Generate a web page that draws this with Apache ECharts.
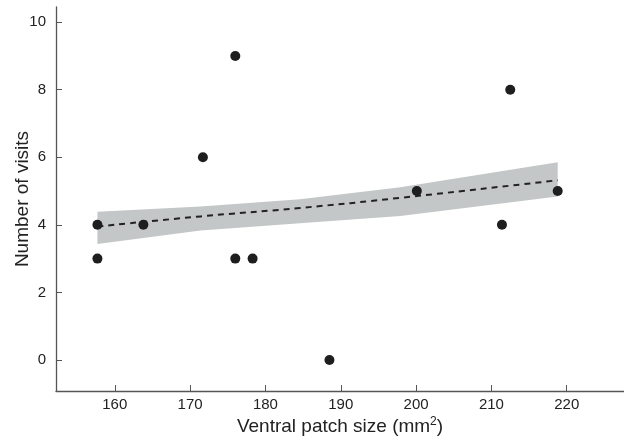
<!DOCTYPE html>
<html>
<head>
    <meta charset="UTF-8"/>
    <script type="text/javascript" src="https://cdn.jsdelivr.net/npm/echarts@6/dist/echarts.min.js"></script>
    <title>Number of visits</title>
    <style>
        html, body { margin: 0; padding: 0; background: #fff; }
        #main { width: 624px; height: 440px; }
    </style>
</head>
<body>
<div id="main"></div>

<script type="application/javascript">
    // observed points
    var patchSize = [157.7, 157.7, 163.8, 171.7, 176.0, 176.0, 178.3, 188.5, 200.1, 211.4, 212.5, 218.8];
    var visits = [4, 3, 4, 6, 9, 3, 3, 0, 5, 4, 8, 5];

    // fitted line and confidence band
    var fitX = [157.7, 171.4, 184.6, 197.9, 218.8];
    var fitY = [3.95, 4.25, 4.50, 4.80, 5.32];
    var bandLower = [3.43, 3.83, 4.05, 4.26, 4.84];
    var bandUpper = [4.39, 4.54, 4.76, 5.11, 5.85];

    var xTicks = [160, 170, 180, 190, 200, 210, 220];
    var yTicks = [0, 2, 4, 6, 8, 10];

    function pairs(xs, ys) {
        var out = [];
        for (var i = 0; i < xs.length; i++) {
            out.push([xs[i], ys[i]]);
        }
        return out;
    }

    // band polygon: upper edge left to right, then lower edge back
    function renderBand(params, api) {
        var pts = [];
        for (var i = 0; i < fitX.length; i++) {
            pts.push(api.coord([fitX[i], bandUpper[i]]));
        }
        for (var j = fitX.length - 1; j >= 0; j--) {
            pts.push(api.coord([fitX[j], bandLower[j]]));
        }
        return {
            type: 'polygon',
            shape: { points: pts },
            style: { fill: '#c4c7c7' }
        };
    }

    var myChart = echarts.init(document.getElementById('main'));
    var option = {
        animation: false,
        grid: { left: 56, right: 0, top: 7, bottom: 49, outerBoundsMode: 'none' },
        xAxis: {
            type: 'value',
            min: 152.2,
            max: 227.6,
            name: '{a|Ventral patch size (mm}{s|2}{a|)}',
            nameLocation: 'middle',
            nameGap: 25,
            nameMoveOverlap: false,
            nameTextStyle: {
                rich: {
                    a: { fontFamily: 'Liberation Sans', fontSize: 19, color: '#222' },
                    s: { fontFamily: 'Liberation Sans', fontSize: 12, color: '#222', padding: [0, 0, 10, 0] }
                }
            },
            splitLine: { show: false },
            axisLine: { onZero: false, lineStyle: { color: '#555', width: 1.3 } },
            axisTick: { inside: true, length: 6, customValues: xTicks, lineStyle: { color: '#555' } },
            axisLabel: {
                customValues: xTicks,
                margin: 6,
                fontFamily: 'Liberation Sans',
                fontSize: 15,
                color: '#222'
            }
        },
        yAxis: {
            type: 'value',
            min: -0.92,
            max: 10.45,
            name: 'Number of visits',
            nameLocation: 'middle',
            nameGap: 24,
            nameMoveOverlap: false,
            nameTextStyle: { fontFamily: 'Liberation Sans', fontSize: 19, color: '#222' },
            splitLine: { show: false },
            axisLine: { show: true, onZero: false, lineStyle: { color: '#555', width: 1.3 } },
            axisTick: { show: true, inside: true, length: 6, customValues: yTicks, lineStyle: { color: '#555' } },
            axisLabel: {
                customValues: yTicks,
                margin: 10,
                fontFamily: 'Liberation Sans',
                fontSize: 15,
                color: '#222'
            }
        },
        series: [
            {
                name: 'band',
                type: 'custom',
                data: [0],
                renderItem: renderBand,
                silent: true,
                z: 1
            },
            {
                name: 'fit',
                type: 'line',
                data: pairs(fitX, fitY),
                symbol: 'none',
                smooth: true,
                lineStyle: { color: '#222', width: 2, type: [6, 5] },
                z: 3
            },
            {
                name: 'visits',
                type: 'scatter',
                data: pairs(patchSize, visits),
                symbolSize: 10,
                itemStyle: { color: '#1e1e1e', opacity: 1 },
                z: 4
            }
        ]
    };
    myChart.setOption(option);
</script>
</body>
</html>
